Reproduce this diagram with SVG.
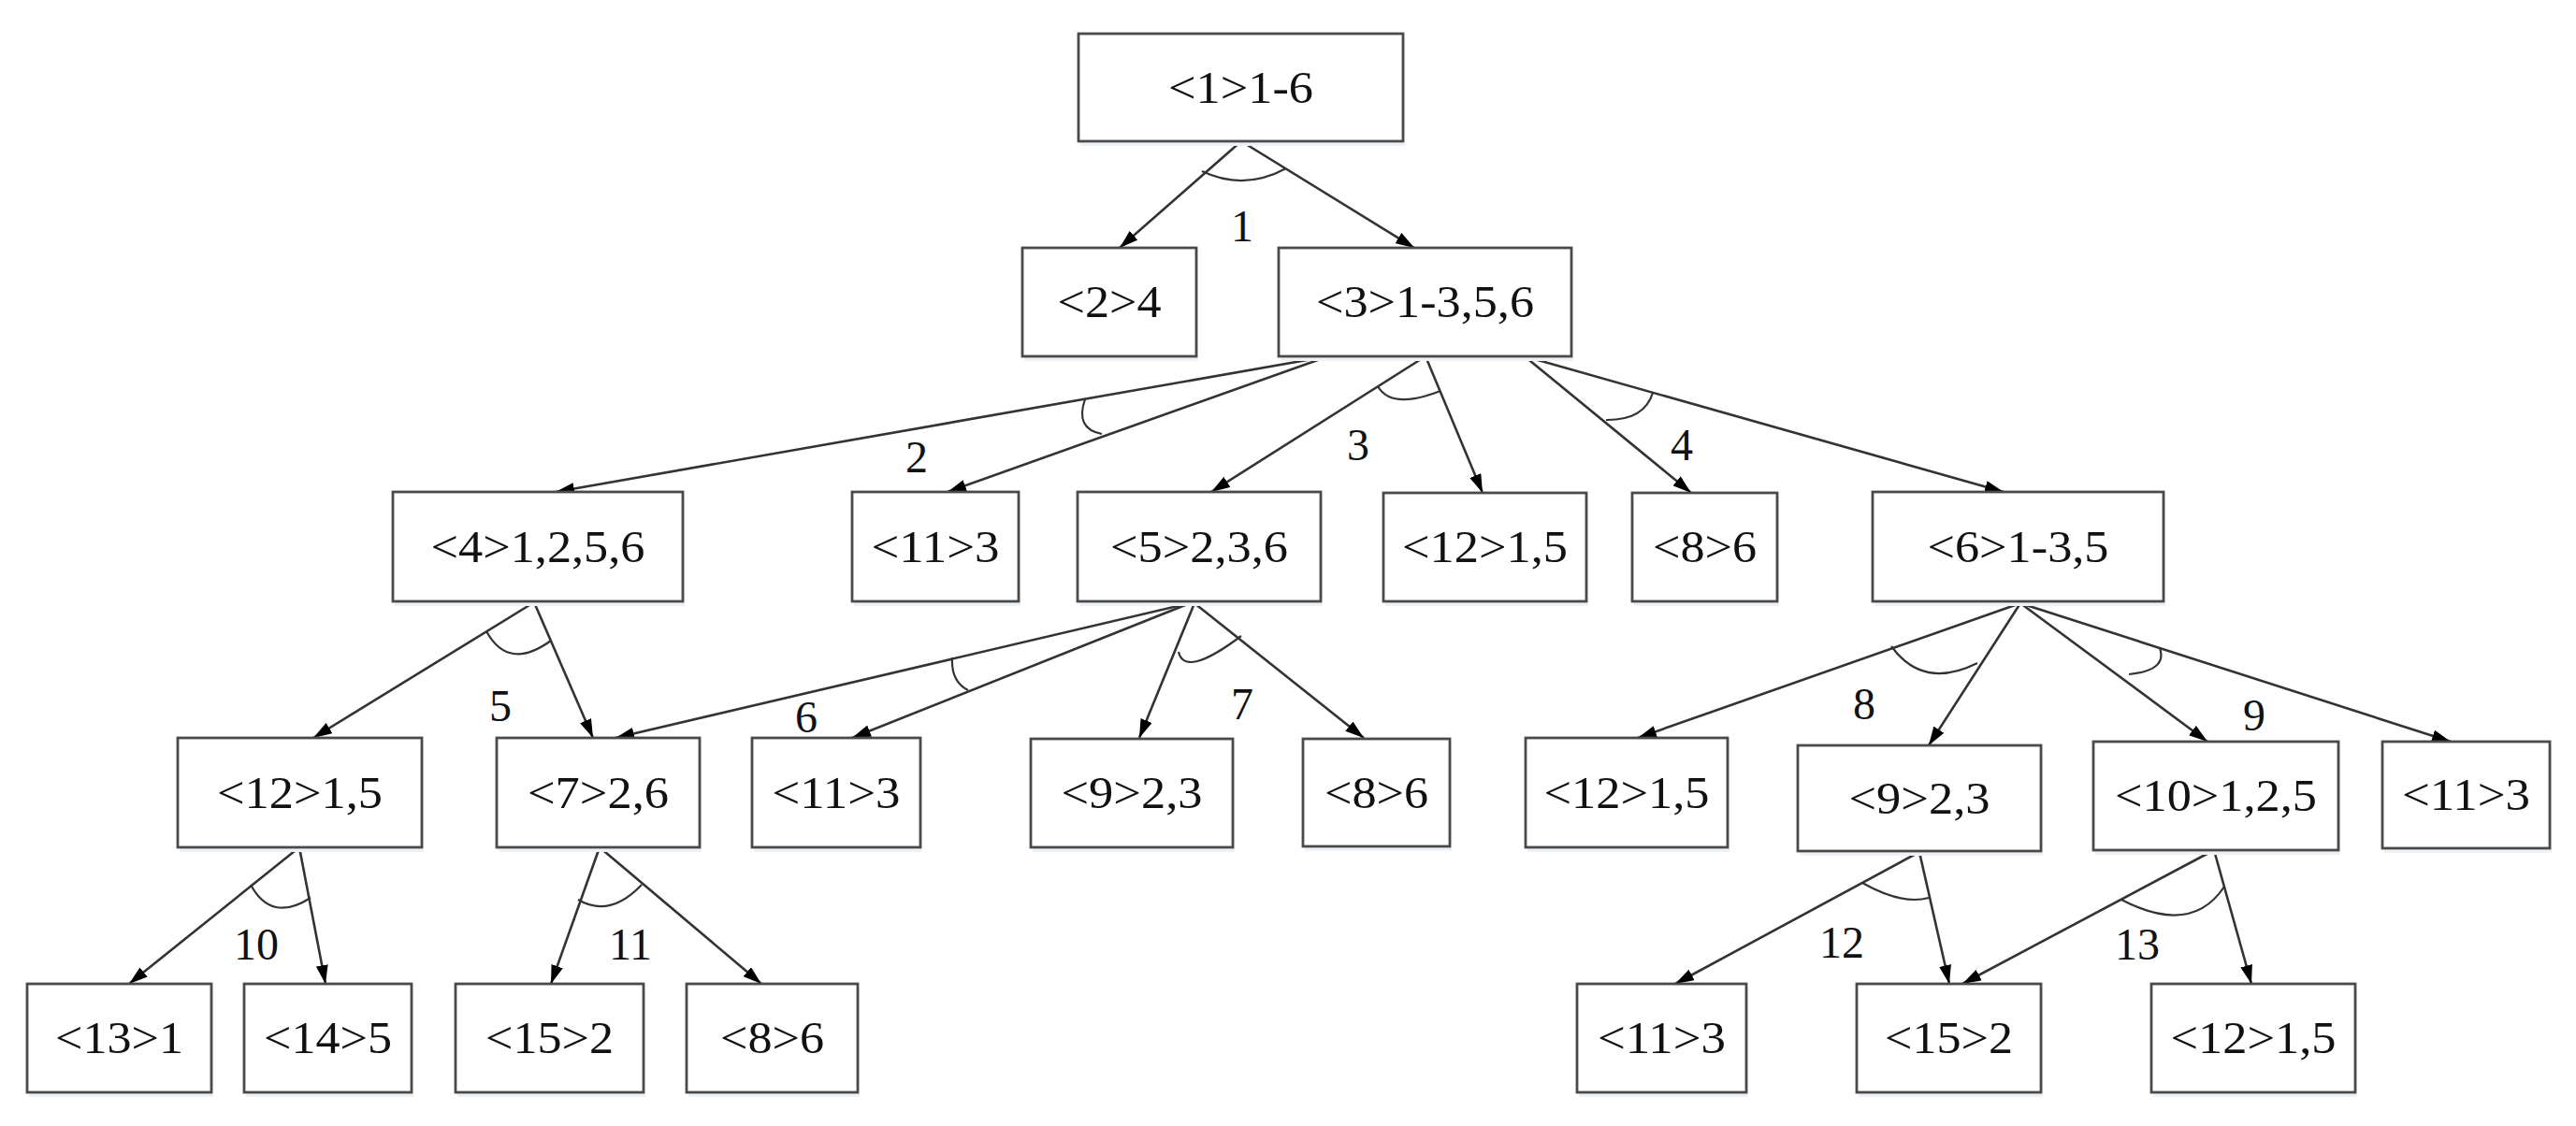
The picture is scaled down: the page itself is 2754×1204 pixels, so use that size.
<svg xmlns="http://www.w3.org/2000/svg" width="2754" height="1204" viewBox="0 0 2754 1204">
<style>
.box{fill:#ffffff;stroke:#4a4a4a;stroke-width:2.8}
.sh{fill:#eef2f6;stroke:none}
.t{font-family:"Liberation Serif","Times New Roman",serif;font-size:48px;fill:#111;text-anchor:middle}
.e{fill:none;stroke:#333333;stroke-width:2.6}
.a{fill:none;stroke:#333333;stroke-width:2.2}
</style>
<defs>
<marker id="ah" viewBox="0 0 20 13" refX="20" refY="6.5" markerWidth="20" markerHeight="13" markerUnits="userSpaceOnUse" orient="auto">
<path d="M0,0 L20,6.5 L0,13 z" fill="#000"/>
</marker>
</defs>
<rect width="2754" height="1204" fill="#ffffff"/>
<g id="connectors">
<line class="e" x1="1327" y1="151" x2="1197" y2="265" marker-end="url(#ah)"/>
<line class="e" x1="1327" y1="151" x2="1512" y2="265" marker-end="url(#ah)"/>
<line class="e" x1="1420" y1="381" x2="594" y2="526" marker-end="url(#ah)"/>
<line class="e" x1="1420" y1="381" x2="1013" y2="526" marker-end="url(#ah)"/>
<line class="e" x1="1524" y1="381" x2="1295" y2="526" marker-end="url(#ah)"/>
<line class="e" x1="1524" y1="381" x2="1585" y2="527" marker-end="url(#ah)"/>
<line class="e" x1="1630" y1="381" x2="1808" y2="527" marker-end="url(#ah)"/>
<line class="e" x1="1630" y1="381" x2="2142" y2="526" marker-end="url(#ah)"/>
<line class="e" x1="571" y1="644" x2="335" y2="789" marker-end="url(#ah)"/>
<line class="e" x1="571" y1="644" x2="634" y2="789" marker-end="url(#ah)"/>
<line class="e" x1="1272" y1="645" x2="658" y2="789" marker-end="url(#ah)"/>
<line class="e" x1="1272" y1="645" x2="911" y2="789" marker-end="url(#ah)"/>
<line class="e" x1="1277" y1="645" x2="1218" y2="789" marker-end="url(#ah)"/>
<line class="e" x1="1277" y1="645" x2="1458" y2="789" marker-end="url(#ah)"/>
<line class="e" x1="2160" y1="645" x2="1751" y2="789" marker-end="url(#ah)"/>
<line class="e" x1="2160" y1="645" x2="2062" y2="797" marker-end="url(#ah)"/>
<line class="e" x1="2160" y1="645" x2="2360" y2="793" marker-end="url(#ah)"/>
<line class="e" x1="2160" y1="645" x2="2620" y2="793" marker-end="url(#ah)"/>
<line class="e" x1="320" y1="906" x2="138" y2="1052" marker-end="url(#ah)"/>
<line class="e" x1="320" y1="906" x2="348" y2="1052" marker-end="url(#ah)"/>
<line class="e" x1="641" y1="906" x2="589" y2="1052" marker-end="url(#ah)"/>
<line class="e" x1="641" y1="906" x2="814" y2="1052" marker-end="url(#ah)"/>
<line class="e" x1="2052" y1="911" x2="1791" y2="1052" marker-end="url(#ah)"/>
<line class="e" x1="2052" y1="911" x2="2084" y2="1052" marker-end="url(#ah)"/>
<line class="e" x1="2367" y1="909" x2="2098" y2="1052" marker-end="url(#ah)"/>
<line class="e" x1="2367" y1="909" x2="2407" y2="1052" marker-end="url(#ah)"/>
<path class="a" d="M1285,183 Q1330,204.5 1375,180"/>
<path class="a" d="M1160,427 Q1149,458.5 1178,464"/>
<path class="a" d="M1473,413 Q1487.5,438.5 1540,418"/>
<path class="a" d="M1717,449 Q1758,449.5 1767,420"/>
<path class="a" d="M520,675 Q543.5,718 589,685"/>
<path class="a" d="M1018,703 Q1016.5,729 1035,738"/>
<path class="a" d="M1260,697 Q1266.5,725.5 1327,680"/>
<path class="a" d="M2022,691 Q2056,738 2114,709"/>
<path class="a" d="M2276,721 Q2317.5,717 2309,693"/>
<path class="a" d="M268,946 Q290,987 332,960"/>
<path class="a" d="M618,962 Q652,982 686,946"/>
<path class="a" d="M1991,944 Q2033.5,968 2062,960"/>
<path class="a" d="M2268,962 Q2343,1001 2378,948"/>
</g>
<g id="labels">
<text class="t" x="1328" y="258">1</text>
<text class="t" x="980" y="505">2</text>
<text class="t" x="1452" y="492">3</text>
<text class="t" x="1798" y="492">4</text>
<text class="t" x="535" y="771">5</text>
<text class="t" x="862" y="783">6</text>
<text class="t" x="1328" y="769">7</text>
<text class="t" x="1993" y="769">8</text>
<text class="t" x="2410" y="781">9</text>
<text class="t" x="274" y="1026">10</text>
<text class="t" x="674" y="1026">11</text>
<text class="t" x="1969" y="1024">12</text>
<text class="t" x="2285" y="1026">13</text>
</g>
<g id="n1"><rect class="sh" x="1155" y="40" width="347" height="116"/><rect class="box" x="1153" y="36" width="347" height="115"/><text class="t" x="1326.5" y="109.5" textLength="155" lengthAdjust="spacingAndGlyphs">&lt;1&gt;1-6</text></g>
<g id="n2"><rect class="sh" x="1095" y="269" width="186" height="117"/><rect class="box" x="1093" y="265" width="186" height="116"/><text class="t" x="1186" y="339" textLength="111" lengthAdjust="spacingAndGlyphs">&lt;2&gt;4</text></g>
<g id="n3"><rect class="sh" x="1369" y="269" width="313" height="117"/><rect class="box" x="1367" y="265" width="313" height="116"/><text class="t" x="1523.5" y="339" textLength="233" lengthAdjust="spacingAndGlyphs">&lt;3&gt;1-3,5,6</text></g>
<g id="n4"><rect class="sh" x="422" y="530" width="310" height="118"/><rect class="box" x="420" y="526" width="310" height="117"/><text class="t" x="575" y="600.5" textLength="229" lengthAdjust="spacingAndGlyphs">&lt;4&gt;1,2,5,6</text></g>
<g id="n5"><rect class="sh" x="913" y="530" width="178" height="118"/><rect class="box" x="911" y="526" width="178" height="117"/><text class="t" x="1000" y="600.5" textLength="137" lengthAdjust="spacingAndGlyphs">&lt;11&gt;3</text></g>
<g id="n6"><rect class="sh" x="1154" y="530" width="260" height="118"/><rect class="box" x="1152" y="526" width="260" height="117"/><text class="t" x="1282" y="600.5" textLength="190" lengthAdjust="spacingAndGlyphs">&lt;5&gt;2,3,6</text></g>
<g id="n7"><rect class="sh" x="1481" y="531" width="217" height="117"/><rect class="box" x="1479" y="527" width="217" height="116"/><text class="t" x="1587.5" y="601" textLength="177" lengthAdjust="spacingAndGlyphs">&lt;12&gt;1,5</text></g>
<g id="n8"><rect class="sh" x="1747" y="531" width="155" height="117"/><rect class="box" x="1745" y="527" width="155" height="116"/><text class="t" x="1822.5" y="601" textLength="111" lengthAdjust="spacingAndGlyphs">&lt;8&gt;6</text></g>
<g id="n9"><rect class="sh" x="2004" y="530" width="311" height="118"/><rect class="box" x="2002" y="526" width="311" height="117"/><text class="t" x="2157.5" y="600.5" textLength="194" lengthAdjust="spacingAndGlyphs">&lt;6&gt;1-3,5</text></g>
<g id="n10"><rect class="sh" x="192" y="793" width="261" height="118"/><rect class="box" x="190" y="789" width="261" height="117"/><text class="t" x="320.5" y="863.5" textLength="177" lengthAdjust="spacingAndGlyphs">&lt;12&gt;1,5</text></g>
<g id="n11"><rect class="sh" x="533" y="793" width="217" height="118"/><rect class="box" x="531" y="789" width="217" height="117"/><text class="t" x="639.5" y="863.5" textLength="151" lengthAdjust="spacingAndGlyphs">&lt;7&gt;2,6</text></g>
<g id="n12"><rect class="sh" x="806" y="793" width="180" height="118"/><rect class="box" x="804" y="789" width="180" height="117"/><text class="t" x="894" y="863.5" textLength="137" lengthAdjust="spacingAndGlyphs">&lt;11&gt;3</text></g>
<g id="n13"><rect class="sh" x="1104" y="794" width="216" height="117"/><rect class="box" x="1102" y="790" width="216" height="116"/><text class="t" x="1210" y="864" textLength="151" lengthAdjust="spacingAndGlyphs">&lt;9&gt;2,3</text></g>
<g id="n14"><rect class="sh" x="1395" y="794" width="157" height="116"/><rect class="box" x="1393" y="790" width="157" height="115"/><text class="t" x="1471.5" y="863.5" textLength="111" lengthAdjust="spacingAndGlyphs">&lt;8&gt;6</text></g>
<g id="n15"><rect class="sh" x="1633" y="793" width="216" height="118"/><rect class="box" x="1631" y="789" width="216" height="117"/><text class="t" x="1739" y="863.5" textLength="177" lengthAdjust="spacingAndGlyphs">&lt;12&gt;1,5</text></g>
<g id="n16"><rect class="sh" x="1924" y="801" width="260" height="114"/><rect class="box" x="1922" y="797" width="260" height="113"/><text class="t" x="2052" y="869.5" textLength="151" lengthAdjust="spacingAndGlyphs">&lt;9&gt;2,3</text></g>
<g id="n17"><rect class="sh" x="2240" y="797" width="262" height="117"/><rect class="box" x="2238" y="793" width="262" height="116"/><text class="t" x="2369" y="867" textLength="216" lengthAdjust="spacingAndGlyphs">&lt;10&gt;1,2,5</text></g>
<g id="n18"><rect class="sh" x="2549" y="797" width="179" height="115"/><rect class="box" x="2547" y="793" width="179" height="114"/><text class="t" x="2636.5" y="866" textLength="137" lengthAdjust="spacingAndGlyphs">&lt;11&gt;3</text></g>
<g id="n19"><rect class="sh" x="31" y="1056" width="197" height="117"/><rect class="box" x="29" y="1052" width="197" height="116"/><text class="t" x="127.5" y="1126" textLength="137" lengthAdjust="spacingAndGlyphs">&lt;13&gt;1</text></g>
<g id="n20"><rect class="sh" x="263" y="1056" width="179" height="117"/><rect class="box" x="261" y="1052" width="179" height="116"/><text class="t" x="350.5" y="1126" textLength="137" lengthAdjust="spacingAndGlyphs">&lt;14&gt;5</text></g>
<g id="n21"><rect class="sh" x="489" y="1056" width="201" height="117"/><rect class="box" x="487" y="1052" width="201" height="116"/><text class="t" x="587.5" y="1126" textLength="137" lengthAdjust="spacingAndGlyphs">&lt;15&gt;2</text></g>
<g id="n22"><rect class="sh" x="736" y="1056" width="183" height="117"/><rect class="box" x="734" y="1052" width="183" height="116"/><text class="t" x="825.5" y="1126" textLength="111" lengthAdjust="spacingAndGlyphs">&lt;8&gt;6</text></g>
<g id="n23"><rect class="sh" x="1688" y="1056" width="181" height="117"/><rect class="box" x="1686" y="1052" width="181" height="116"/><text class="t" x="1776.5" y="1126" textLength="137" lengthAdjust="spacingAndGlyphs">&lt;11&gt;3</text></g>
<g id="n24"><rect class="sh" x="1987" y="1056" width="197" height="117"/><rect class="box" x="1985" y="1052" width="197" height="116"/><text class="t" x="2083.5" y="1126" textLength="137" lengthAdjust="spacingAndGlyphs">&lt;15&gt;2</text></g>
<g id="n25"><rect class="sh" x="2302" y="1056" width="218" height="117"/><rect class="box" x="2300" y="1052" width="218" height="116"/><text class="t" x="2409" y="1126" textLength="177" lengthAdjust="spacingAndGlyphs">&lt;12&gt;1,5</text></g>
</svg>
